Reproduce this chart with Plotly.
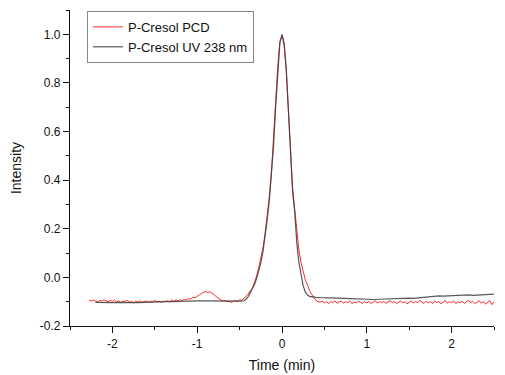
import numpy as np
import plotly.graph_objects as go

# ---------------- data ----------------
# P-Cresol PCD (red), sampled every 0.025 min
pcd_left_start = -2.275
pcd_left = [-0.095, -0.097, -0.093, -0.096, -0.102, -0.094, -0.098, -0.092, -0.097, -0.100,
            -0.094, -0.099, -0.093, -0.101, -0.096, -0.104, -0.097, -0.099, -0.094, -0.102,
            -0.098, -0.105, -0.097, -0.101, -0.096, -0.103, -0.099, -0.097, -0.102, -0.098,
            -0.100, -0.095, -0.101, -0.098, -0.103, -0.097, -0.099, -0.096, -0.100, -0.094,
            -0.098, -0.093, -0.097, -0.092, -0.095, -0.090, -0.092, -0.087, -0.089, -0.082,
            -0.084, -0.076, -0.072, -0.066, -0.063, -0.058, -0.062, -0.059, -0.066, -0.071,
            -0.080, -0.086, -0.093, -0.097, -0.095, -0.100, -0.098, -0.103, -0.099]
pcd_peak_start = -0.55
pcd_peak = [-0.095, -0.100, -0.092, -0.094, -0.085, -0.078, -0.070, -0.055, -0.045, -0.020,
            0.005, 0.040, 0.075, 0.120, 0.180, 0.250, 0.330, 0.430, 0.560, 0.720,
            0.870, 0.970, 0.995, 0.955, 0.850, 0.680, 0.500, 0.370, 0.280, 0.190,
            0.110, 0.060, 0.020, -0.010, -0.030, -0.055, -0.070, -0.085, -0.095, -0.100]
pcd_right_start = 0.45
pcd_right = [-0.102, -0.097, -0.106, -0.099, -0.108, -0.100, -0.104, -0.096, -0.107, -0.101,
             -0.098, -0.106, -0.100, -0.104, -0.097, -0.108, -0.101, -0.105, -0.098, -0.103,
             -0.107, -0.100, -0.105, -0.099, -0.108, -0.102, -0.096, -0.106, -0.100, -0.104,
             -0.098, -0.107, -0.101, -0.095, -0.105, -0.099, -0.108, -0.102, -0.097, -0.105,
             -0.100, -0.109, -0.101, -0.096, -0.106, -0.099, -0.104, -0.094, -0.103, -0.107,
             -0.098, -0.105, -0.100, -0.108, -0.097, -0.104, -0.099, -0.109, -0.101, -0.096,
             -0.106, -0.100, -0.104, -0.097, -0.108, -0.101, -0.105, -0.098, -0.107, -0.100,
             -0.094, -0.104, -0.099, -0.108, -0.101, -0.096, -0.106, -0.099, -0.110, -0.102,
             -0.095, -0.112, -0.100]
pcd_step = 0.025

# P-Cresol UV 238 nm (dark grey)
uv_left_start = -2.2
uv_left_step = 0.05
uv_left = [-0.103, -0.104, -0.103, -0.104, -0.104, -0.103, -0.104, -0.104, -0.105, -0.104,
           -0.104, -0.103, -0.103, -0.102, -0.102, -0.101, -0.101, -0.100, -0.100, -0.099,
           -0.099, -0.098, -0.098, -0.097, -0.097, -0.097, -0.097, -0.098, -0.099, -0.099,
           -0.100, -0.100, -0.100, -0.100]
uv_peak_start = -0.5
uv_peak_step = 0.025
uv_peak = [-0.100, -0.098, -0.096, -0.090, -0.080, -0.065, -0.050, -0.030, -0.005, 0.025,
           0.060, 0.105, 0.165, 0.235, 0.315, 0.415, 0.540, 0.700, 0.860, 0.965,
           1.000, 0.965, 0.860, 0.690, 0.480, 0.350, 0.270, 0.140, 0.060, 0.005,
           -0.035, -0.060, -0.072, -0.078, -0.080]
uv_right_start = 0.4
uv_right_step = 0.05
uv_right = [-0.082, -0.083, -0.083, -0.084, -0.084, -0.085, -0.085, -0.086, -0.087, -0.088,
            -0.089, -0.090, -0.091, -0.091, -0.091, -0.090, -0.089, -0.088, -0.087, -0.086,
            -0.084, -0.083, -0.085, -0.086, -0.084, -0.081, -0.080, -0.079, -0.077, -0.076,
            -0.077, -0.076, -0.076, -0.075, -0.076, -0.074, -0.072, -0.074, -0.073, -0.072,
            -0.071, -0.070, -0.069]

x_ticks = [-2, -1, 0, 1, 2]
y_ticks = [-0.2, 0.0, 0.2, 0.4, 0.6, 0.8, 1.0]


def seg(start, step, vals):
    t = start + step * np.arange(len(vals))
    return list(np.round(t, 4)), list(vals)


t1, v1 = seg(pcd_left_start, pcd_step, pcd_left)
t2, v2 = seg(pcd_peak_start, pcd_step, pcd_peak)
t3, v3 = seg(pcd_right_start, pcd_step, pcd_right)
pcd_t, pcd_v = t1 + t2 + t3, v1 + v2 + v3

u1, w1 = seg(uv_left_start, uv_left_step, uv_left)
u2, w2 = seg(uv_peak_start, uv_peak_step, uv_peak)
u3, w3 = seg(uv_right_start, uv_right_step, uv_right)
uv_t, uv_v = u1 + u2 + u3, w1 + w2 + w3

font = "Liberation Sans, Arial, sans-serif"

fig = go.Figure()
fig.add_trace(go.Scatter(x=pcd_t, y=pcd_v, mode="lines", name="P-Cresol PCD",
                         line=dict(color="#ff2a2a", width=1)))
fig.add_trace(go.Scatter(x=uv_t, y=uv_v, mode="lines", name="P-Cresol UV 238 nm",
                         line=dict(color="#3c3c3c", width=1.2), opacity=0.85))

# the page body adds an 8px margin, so the figure is sized to fit the 505x375 window
fig.update_layout(
    width=497, height=367,
    margin=dict(l=62, r=11, t=2, b=49),
    paper_bgcolor="white", plot_bgcolor="white",
    font=dict(family=font, size=12, color="#111"),
    showlegend=True,
    legend=dict(x=0.04, y=0.997, xanchor="left", yanchor="top",
                bordercolor="#888", borderwidth=1, bgcolor="white",
                font=dict(family=font, size=13, color="#111"),
                itemwidth=30, tracegroupgap=0),
    xaxis=dict(range=[-2.5, 2.5], tickvals=x_ticks, ticktext=[str(v) for v in x_ticks],
               automargin=False,
               showline=True, linecolor="#111", linewidth=1.2, mirror=False,
               ticks="outside", ticklen=6, tickwidth=1.2, tickcolor="#111",
               minor=dict(dtick=0.5, tick0=0, ticks="outside", ticklen=3, tickcolor="#111"),
               showgrid=False, zeroline=False,
               title=dict(text="Time (min)", font=dict(family=font, size=14), standoff=10)),
    yaxis=dict(range=[-0.2, 1.1], tickvals=y_ticks, ticktext=[f"{v:.1f}" for v in y_ticks],
               automargin=False,
               showline=True, linecolor="#111", linewidth=1.2, mirror=False,
               ticks="outside", ticklen=6, tickwidth=1.2, tickcolor="#111",
               minor=dict(dtick=0.1, tick0=0, ticks="outside", ticklen=3, tickcolor="#111"),
               showgrid=False, zeroline=False,
               title=dict(text="Intensity", font=dict(family=font, size=14), standoff=19)),
)

fig.write_html("out.html")
